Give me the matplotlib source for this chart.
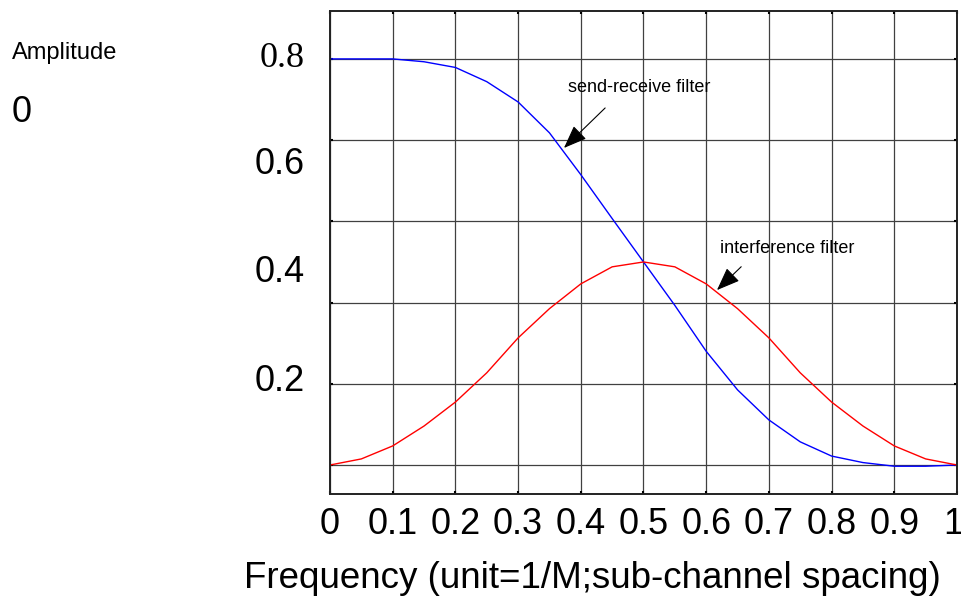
import matplotlib
matplotlib.use("Agg")
import matplotlib.pyplot as plt
from matplotlib.transforms import ScaledTranslation
import numpy as np

# ── data ───────────────────────────────────────────────────────
FREQ = [0.00, 0.05, 0.10, 0.15, 0.20, 0.25, 0.30, 0.35, 0.40, 0.45, 0.50,
        0.55, 0.60, 0.65, 0.70, 0.75, 0.80, 0.85, 0.90, 0.95, 1.00]
SEND_RECEIVE = [1.000, 1.000, 1.000, 0.993, 0.979, 0.944, 0.894, 0.818, 0.715, 0.607, 0.500,
                0.393, 0.280, 0.185, 0.111, 0.057, 0.022, 0.006, -0.003, -0.003, 0.000]
INTERFERENCE = [0.000, 0.015, 0.047, 0.096, 0.155, 0.227, 0.313, 0.385, 0.446, 0.488, 0.500,
                0.488, 0.446, 0.385, 0.313, 0.227, 0.155, 0.096, 0.047, 0.015, 0.000]

X_TICKS = [0.0, 0.1, 0.2, 0.3, 0.4, 0.5, 0.6, 0.7, 0.8, 0.9, 1.0]
X_TICKLABELS = ["0", "0.1", "0.2", "0.3", "0.4", "0.5", "0.6", "0.7", "0.8", "0.9", "1"]
Y_GRID = [0.0, 0.2, 0.4, 0.6, 0.8, 1.0]
# the y labels sit off their gridlines in the original picture
Y_LABELS = ["0.8", "0.6", "0.4", "0.2"]
Y_LABEL_POS = [1.0, 0.741, 0.474, 0.205]

SANS = "Liberation Sans"
SERIF = "Liberation Serif"

fig = plt.figure(figsize=(9.62, 5.99), dpi=100)
ax = fig.add_axes([330 / 962, 105 / 599, 627 / 962, 483 / 599])

ax.plot(FREQ, SEND_RECEIVE, color="#0000ff", lw=1.0)
ax.plot(FREQ, INTERFERENCE, color="#ff0000", lw=1.0)

ax.set_xlim(0, 1)
ax.set_ylim(-0.0714, 1.118)
ax.set_xticks(X_TICKS)
ax.set_xticklabels(X_TICKLABELS, family=SANS, fontsize=26)
ax.set_yticks(Y_GRID)
ax.set_yticklabels([])
ax.tick_params(direction="in", length=2.5, width=1.5, top=True, right=True,
               pad=9, colors="black")
ax.grid(True, color="#404040", lw=0.9)
for sp in ax.spines.values():
    sp.set_color("#222222")
    sp.set_linewidth(1.4)

# last label "1" sits slightly left so it stays inside the picture
last = ax.get_xticklabels()[-1]
last.set_transform(last.get_transform() + ScaledTranslation(-4 / 100, 0, fig.dpi_scale_trans))

for txt, pos in zip(Y_LABELS, Y_LABEL_POS):
    fam = SERIF if txt == "0.8" else SANS
    ax.text(-0.04, pos, txt, ha="right", va="center", fontsize=26,
            family=fam, clip_on=False)

# annotations with arrows
arrow = dict(arrowstyle="-|>,head_width=0.35,head_length=0.9", color="black",
             lw=0.8, mutation_scale=16)
ax.annotate("", xy=(0.37, 0.776), xytext=(0.442, 0.884), arrowprops=arrow)
ax.text(0.38, 0.929, "send-receive filter", fontsize=13, family=SANS,
        ha="left", va="center")
ax.annotate("", xy=(0.614, 0.426), xytext=(0.659, 0.493), arrowprops=arrow)
ax.text(0.622, 0.532, "interference filter", fontsize=13, family=SANS,
        ha="left", va="center")

fig.text(12 / 962, 1 - 53 / 599, "Amplitude", fontsize=17, family=SANS,
         ha="left", va="center")
fig.text(12 / 962, 1 - 112 / 599, "0", fontsize=26, family=SANS,
         ha="left", va="center")
fig.text(592 / 962, 1 - 578 / 599, "Frequency (unit=1/M;sub-channel spacing)",
         fontsize=26.5, family=SANS, ha="center", va="center")

fig.savefig("out.png", dpi=100, facecolor="white")
